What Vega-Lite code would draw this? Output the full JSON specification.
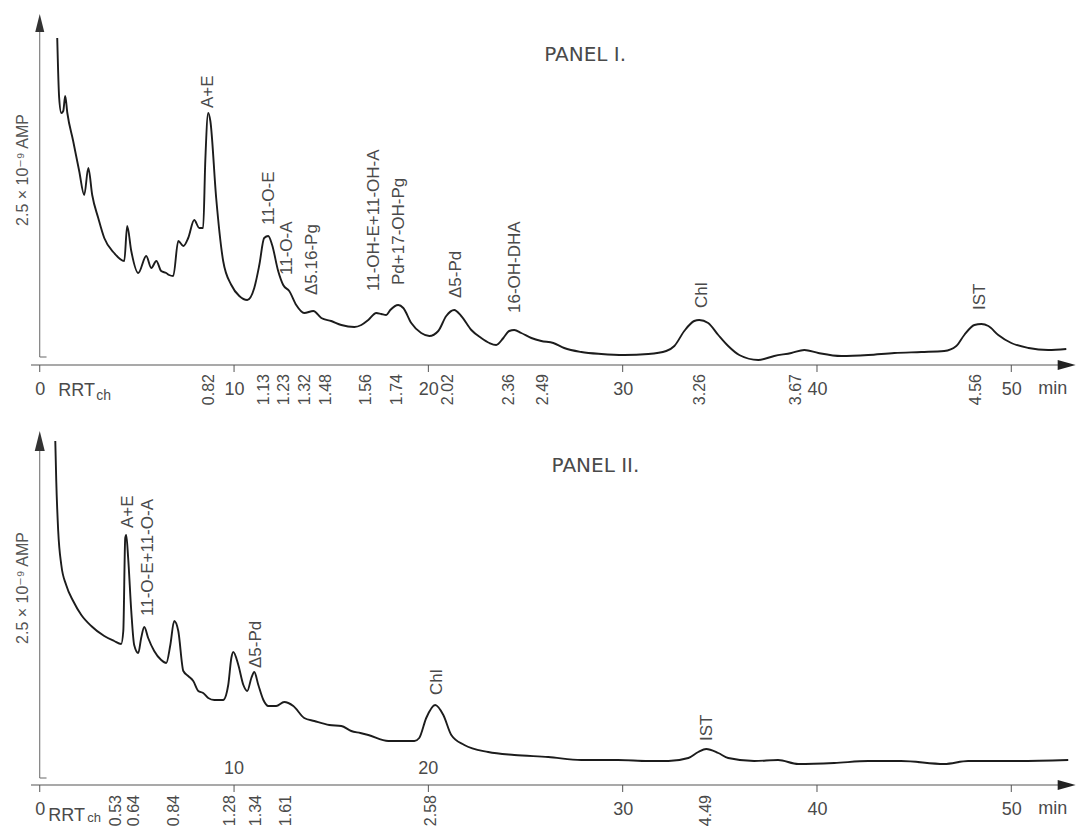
{
  "$schema": "https://vega.github.io/schema/vega-lite/v6.json",
  "background": "white",
  "padding": {"left": 15, "top": 14, "right": 0, "bottom": 0},
  "spacing": 25,
  "config": {"view": {"stroke": null}, "font": "Liberation Sans"},
  "datasets": {
    "p1": [
      {"t":0.90,"v":327},{"t":1.00,"v":267},{"t":1.11,"v":252},{"t":1.21,"v":254},{"t":1.31,"v":269},{"t":1.42,"v":252},{"t":1.72,"v":224},{"t":2.03,"v":194},{"t":2.29,"v":170},{"t":2.50,"v":197},{"t":2.70,"v":170},{"t":3.01,"v":147},{"t":3.32,"v":127},{"t":3.83,"v":112},{"t":4.35,"v":104},{"t":4.50,"v":139},{"t":4.71,"v":114},{"t":5.07,"v":92},{"t":5.48,"v":109},{"t":5.74,"v":97},{"t":6.00,"v":104},{"t":6.25,"v":94},{"t":6.51,"v":92},{"t":6.66,"v":90},{"t":6.87,"v":89},{"t":7.13,"v":124},{"t":7.39,"v":119},{"t":7.64,"v":127},{"t":7.95,"v":145},{"t":8.21,"v":137},{"t":8.41,"v":137},{"t":8.52,"v":204},{"t":8.67,"v":252},{"t":8.78,"v":244},{"t":9.08,"v":167},{"t":9.44,"v":104},{"t":9.86,"v":80},{"t":10.27,"v":69},{"t":10.68,"v":65},{"t":11.04,"v":77},{"t":11.30,"v":100},{"t":11.55,"v":127},{"t":11.76,"v":129},{"t":11.96,"v":120},{"t":12.27,"v":94},{"t":12.53,"v":80},{"t":12.84,"v":74},{"t":13.20,"v":60},{"t":13.61,"v":52},{"t":14.08,"v":54},{"t":14.49,"v":47},{"t":15.00,"v":44},{"t":15.52,"v":40},{"t":16.19,"v":38},{"t":16.55,"v":40},{"t":16.91,"v":45},{"t":17.32,"v":52},{"t":17.58,"v":51},{"t":17.83,"v":50},{"t":18.04,"v":55},{"t":18.45,"v":60},{"t":18.71,"v":57},{"t":19.12,"v":42},{"t":19.63,"v":32},{"t":20.05,"v":29},{"t":20.51,"v":34},{"t":20.92,"v":49},{"t":21.33,"v":55},{"t":21.69,"v":49},{"t":22.21,"v":35},{"t":22.72,"v":27},{"t":23.14,"v":22},{"t":23.49,"v":20},{"t":23.86,"v":27},{"t":24.16,"v":34},{"t":24.42,"v":35},{"t":24.78,"v":32},{"t":25.30,"v":27},{"t":25.81,"v":24},{"t":26.43,"v":22},{"t":26.99,"v":17},{"t":27.87,"v":13},{"t":28.90,"v":11},{"t":30.08,"v":10},{"t":31.32,"v":11},{"t":32.24,"v":14},{"t":32.66,"v":19},{"t":33.17,"v":34},{"t":33.68,"v":44},{"t":33.94,"v":45},{"t":34.40,"v":42},{"t":34.92,"v":30},{"t":35.43,"v":19},{"t":36.00,"v":10},{"t":36.98,"v":5},{"t":37.80,"v":9},{"t":38.68,"v":12},{"t":39.35,"v":15},{"t":40.07,"v":12},{"t":41.25,"v":9},{"t":42.64,"v":10},{"t":43.98,"v":12},{"t":45.37,"v":13},{"t":46.55,"v":14},{"t":47.17,"v":19},{"t":47.58,"v":30},{"t":48.10,"v":40},{"t":48.46,"v":41},{"t":48.82,"v":39},{"t":49.33,"v":30},{"t":50.00,"v":22},{"t":50.89,"v":17},{"t":51.90,"v":15},{"t":52.83,"v":16}
    ],
    "p2": [
      {"t":0.80,"v":344},{"t":0.85,"v":304},{"t":0.95,"v":254},{"t":1.11,"v":220},{"t":1.36,"v":200},{"t":1.72,"v":184},{"t":2.14,"v":170},{"t":2.65,"v":159},{"t":3.32,"v":149},{"t":3.83,"v":144},{"t":4.19,"v":141},{"t":4.30,"v":154},{"t":4.40,"v":247},{"t":4.45,"v":250},{"t":4.55,"v":227},{"t":4.71,"v":174},{"t":4.86,"v":140},{"t":5.07,"v":132},{"t":5.22,"v":147},{"t":5.38,"v":158},{"t":5.58,"v":147},{"t":5.89,"v":134},{"t":6.25,"v":125},{"t":6.51,"v":122},{"t":6.72,"v":140},{"t":6.92,"v":164},{"t":7.13,"v":154},{"t":7.39,"v":114},{"t":7.64,"v":109},{"t":7.90,"v":104},{"t":8.16,"v":94},{"t":8.41,"v":92},{"t":8.67,"v":87},{"t":8.98,"v":85},{"t":9.44,"v":85},{"t":9.70,"v":100},{"t":9.86,"v":127},{"t":9.96,"v":133},{"t":10.22,"v":120},{"t":10.48,"v":100},{"t":10.68,"v":94},{"t":10.89,"v":107},{"t":11.04,"v":113},{"t":11.25,"v":100},{"t":11.51,"v":85},{"t":11.76,"v":79},{"t":12.17,"v":79},{"t":12.58,"v":83},{"t":13.05,"v":79},{"t":13.61,"v":67},{"t":14.13,"v":64},{"t":14.90,"v":60},{"t":15.52,"v":59},{"t":16.03,"v":54},{"t":16.50,"v":52},{"t":16.91,"v":50},{"t":17.94,"v":44},{"t":19.28,"v":44},{"t":19.53,"v":47},{"t":19.89,"v":67},{"t":20.35,"v":80},{"t":20.77,"v":70},{"t":21.18,"v":50},{"t":21.85,"v":40},{"t":23.08,"v":33},{"t":24.42,"v":30},{"t":26.17,"v":28},{"t":27.87,"v":25},{"t":29.77,"v":25},{"t":31.32,"v":24},{"t":32.35,"v":24},{"t":33.38,"v":27},{"t":33.89,"v":33},{"t":34.30,"v":36},{"t":34.92,"v":32},{"t":35.43,"v":27},{"t":36.77,"v":24},{"t":38.00,"v":25},{"t":39.03,"v":21},{"t":40.89,"v":22},{"t":42.64,"v":24},{"t":44.33,"v":24},{"t":46.55,"v":21},{"t":47.78,"v":24},{"t":50.36,"v":24},{"t":52.93,"v":25}
    ],
    "lab1": [
      {"t":8.67,"v":257,"label":"A+E"},{"t":11.81,"v":140,"label":"11-O-E"},{"t":12.74,"v":90,"label":"11-O-A"},{"t":14.02,"v":70,"label":"Δ5.16-Pg"},{"t":17.22,"v":74,"label":"11-OH-E+11-OH-A"},{"t":18.50,"v":80,"label":"Pd+17-OH-Pg"},{"t":21.44,"v":67,"label":"Δ5-Pd"},{"t":24.47,"v":52,"label":"16-OH-DHA"},{"t":34.10,"v":57,"label":"Chl"},{"t":48.40,"v":55,"label":"IST"}
    ],
    "lab2": [
      {"t":4.55,"v":257,"label":"A+E"},{"t":5.58,"v":169,"label":"11-O-E+11-O-A"},{"t":11.14,"v":117,"label":"Δ5-Pd"},{"t":20.46,"v":90,"label":"Chl"},{"t":34.35,"v":44,"label":"IST"}
    ],
    "rrt1": [
      {"t":8.72,"label":"0.82"},{"t":11.55,"label":"1.13"},{"t":12.58,"label":"1.23"},{"t":13.66,"label":"1.32"},{"t":14.74,"label":"1.48"},{"t":16.80,"label":"1.56"},{"t":18.40,"label":"1.74"},{"t":21.02,"label":"2.02"},{"t":24.16,"label":"2.36"},{"t":25.91,"label":"2.49"},{"t":33.99,"label":"3.26"},{"t":38.93,"label":"3.67"},{"t":48.2,"label":"4.56"}
    ],
    "rrt2": [
      {"t":3.94,"label":"0.53"},{"t":4.86,"label":"0.64"},{"t":6.92,"label":"0.84"},{"t":9.80,"label":"1.28"},{"t":11.14,"label":"1.34"},{"t":12.69,"label":"1.61"},{"t":20.15,"label":"2.58"},{"t":34.30,"label":"4.49"}
    ],
    "inner2": [
      {"t":10,"label":"10"},{"t":20,"label":"20"}
    ],
    "ticks": [
      {"t":0},{"t":10},{"t":20},{"t":30},{"t":40},{"t":50}
    ]
  },
  "vconcat": [
    {
      "width": 1045,
      "height": 363,
      "layer": [
        {
          "data": {"name": "p1"},
          "mark": {"type": "line", "color": "#1c1c1c", "strokeWidth": 1.9, "interpolate": "monotone"},
          "encoding": {
            "x": {"field": "t", "type": "quantitative", "scale": {"domain": [-0.45, 53.33], "nice": false, "zero": false},
                  "axis": {"values": [0,10,20,30,40,50], "title": null, "grid": false, "domain": false, "ticks": true, "tickSize": 3, "tickOpacity": 0, "labelFontSize": 18, "labelColor": "#4a4a4a", "labelPadding": 0, "labelFlush": false, "labelOverlap": false}},
            "y": {"field": "v", "type": "quantitative", "scale": {"domain": [-12, 351], "nice": false, "zero": false}, "axis": null}
          }
        },
        {
          "data": {"values": [{}]},
          "mark": {"type": "rule", "color": "#555", "strokeWidth": 1.2},
          "encoding": {"x": {"datum": -0.45}, "x2": {"datum": 53.0}, "y": {"datum": 0, "axis": null}}
        },
        {
          "data": {"name": "ticks"},
          "mark": {"type": "rule", "color": "#555", "strokeWidth": 1},
          "encoding": {"x": {"field": "t", "type": "quantitative"}, "y": {"datum": 0, "axis": null}, "y2": {"datum": -7}}
        },
        {
          "data": {"values": [{}]},
          "mark": {"type": "rule", "color": "#666", "strokeWidth": 1},
          "encoding": {"x": {"datum": 0}, "y": {"datum": 8, "axis": null}, "y2": {"datum": 334}}
        },
        {
          "data": {"values": [{}]},
          "mark": {"type": "rule", "color": "#666", "strokeWidth": 1},
          "encoding": {"x": {"datum": 0}, "x2": {"datum": 0.35}, "y": {"datum": 8, "axis": null}}
        },
        {
          "data": {"values": [{}]},
          "mark": {"type": "point", "shape": "M0,-1L0.5,1L-0.5,1Z", "filled": true, "color": "#333", "opacity": 1, "size": 324},
          "encoding": {"x": {"datum": 0}, "y": {"datum": 342, "axis": null}}
        },
        {
          "data": {"values": [{}]},
          "mark": {"type": "point", "shape": "M1,0L-1,-0.55L-1,0.55Z", "filled": true, "color": "#222", "opacity": 1, "size": 324},
          "encoding": {"x": {"datum": 52.85}, "y": {"datum": 0, "axis": null}}
        },
        {
          "data": {"name": "lab1"},
          "mark": {"type": "text", "angle": 270, "align": "left", "baseline": "middle", "fontSize": 17, "color": "#4a4a4a"},
          "encoding": {
            "x": {"field": "t", "type": "quantitative"},
            "y": {"field": "v", "type": "quantitative", "axis": null},
            "text": {"field": "label"}
          }
        },
        {
          "data": {"name": "rrt1"},
          "mark": {"type": "text", "angle": 270, "align": "right", "baseline": "middle", "fontSize": 16, "color": "#4a4a4a", "dx": -9},
          "encoding": {
            "x": {"field": "t", "type": "quantitative"},
            "y": {"datum": 0, "axis": null},
            "text": {"field": "label"}
          }
        },
        {
          "data": {"values": [{}]},
          "mark": {"type": "text", "text": "RRT", "align": "left", "baseline": "top", "dy": 17, "fontSize": 18, "color": "#4a4a4a"},
          "encoding": {"x": {"datum": 0.95}, "y": {"datum": 0, "axis": null}}
        },
        {
          "data": {"values": [{}]},
          "mark": {"type": "text", "text": "ch", "align": "left", "baseline": "top", "dy": 24, "fontSize": 14, "color": "#4a4a4a"},
          "encoding": {"x": {"datum": 2.91}, "y": {"datum": 0, "axis": null}}
        },
        {
          "data": {"values": [{}]},
          "mark": {"type": "text", "text": "min", "align": "left", "baseline": "top", "dy": 15, "fontSize": 18, "color": "#4a4a4a"},
          "encoding": {"x": {"datum": 51.39}, "y": {"datum": 0, "axis": null}}
        },
        {
          "data": {"values": [{}]},
          "mark": {"type": "text", "text": "2.5 × 10⁻⁹ AMP", "angle": 270, "align": "center", "baseline": "middle", "fontSize": 16, "color": "#555", "font": "Liberation Sans, DejaVu Sans"},
          "encoding": {"x": {"datum": -0.85}, "y": {"datum": 195, "axis": null}}
        },
        {
          "data": {"values": [{}]},
          "mark": {"type": "text", "text": "PANEL I.", "align": "center", "baseline": "middle", "fontSize": 20, "color": "#4a4a4a", "font": "DejaVu Sans"},
          "encoding": {"x": {"datum": 28.07}, "y": {"datum": 310, "axis": null}}
        }
      ]
    },
    {
      "width": 1045,
      "height": 366,
      "layer": [
        {
          "data": {"name": "p2"},
          "mark": {"type": "line", "color": "#1c1c1c", "strokeWidth": 1.9, "interpolate": "monotone"},
          "encoding": {
            "x": {"field": "t", "type": "quantitative", "scale": {"domain": [-0.45, 53.33], "nice": false, "zero": false},
                  "axis": {"values": [0,10,20,30,40,50], "labelExpr": "datum.value == 10 || datum.value == 20 ? '' : datum.label", "title": null, "grid": false, "domain": false, "ticks": true, "tickSize": 3, "tickOpacity": 0, "labelFontSize": 18, "labelColor": "#4a4a4a", "labelPadding": 0, "labelFlush": false, "labelOverlap": false}},
            "y": {"field": "v", "type": "quantitative", "scale": {"domain": [-12, 354], "nice": false, "zero": false}, "axis": null}
          }
        },
        {
          "data": {"values": [{}]},
          "mark": {"type": "rule", "color": "#555", "strokeWidth": 1.2},
          "encoding": {"x": {"datum": -0.45}, "x2": {"datum": 53.0}, "y": {"datum": 0, "axis": null}}
        },
        {
          "data": {"name": "ticks"},
          "mark": {"type": "rule", "color": "#555", "strokeWidth": 1},
          "encoding": {"x": {"field": "t", "type": "quantitative"}, "y": {"datum": 0, "axis": null}, "y2": {"datum": -7}}
        },
        {
          "data": {"values": [{}]},
          "mark": {"type": "rule", "color": "#666", "strokeWidth": 1},
          "encoding": {"x": {"datum": 0}, "y": {"datum": 7, "axis": null}, "y2": {"datum": 337}}
        },
        {
          "data": {"values": [{}]},
          "mark": {"type": "rule", "color": "#666", "strokeWidth": 1},
          "encoding": {"x": {"datum": 0}, "x2": {"datum": 0.35}, "y": {"datum": 7, "axis": null}}
        },
        {
          "data": {"values": [{}]},
          "mark": {"type": "point", "shape": "M0,-1L0.5,1L-0.5,1Z", "filled": true, "color": "#333", "opacity": 1, "size": 400},
          "encoding": {"x": {"datum": 0}, "y": {"datum": 344, "axis": null}}
        },
        {
          "data": {"values": [{}]},
          "mark": {"type": "point", "shape": "M1,0L-1,-0.55L-1,0.55Z", "filled": true, "color": "#222", "opacity": 1, "size": 324},
          "encoding": {"x": {"datum": 52.85}, "y": {"datum": 0, "axis": null}}
        },
        {
          "data": {"name": "lab2"},
          "mark": {"type": "text", "angle": 270, "align": "left", "baseline": "middle", "fontSize": 17, "color": "#4a4a4a"},
          "encoding": {
            "x": {"field": "t", "type": "quantitative"},
            "y": {"field": "v", "type": "quantitative", "axis": null},
            "text": {"field": "label"}
          }
        },
        {
          "data": {"name": "rrt2"},
          "mark": {"type": "text", "angle": 270, "align": "right", "baseline": "middle", "fontSize": 16, "color": "#4a4a4a", "dx": -10},
          "encoding": {
            "x": {"field": "t", "type": "quantitative"},
            "y": {"datum": 0, "axis": null},
            "text": {"field": "label"}
          }
        },
        {
          "data": {"name": "inner2"},
          "mark": {"type": "text", "align": "center", "baseline": "bottom", "dy": -7, "fontSize": 18, "color": "#4a4a4a"},
          "encoding": {
            "x": {"field": "t", "type": "quantitative"},
            "y": {"datum": 0, "axis": null},
            "text": {"field": "label"}
          }
        },
        {
          "data": {"values": [{}]},
          "mark": {"type": "text", "text": "RRT", "align": "left", "baseline": "top", "dy": 22, "fontSize": 18, "color": "#4a4a4a"},
          "encoding": {"x": {"datum": 0.44}, "y": {"datum": 0, "axis": null}}
        },
        {
          "data": {"values": [{}]},
          "mark": {"type": "text", "text": "ch", "align": "left", "baseline": "top", "dy": 27, "fontSize": 13, "color": "#4a4a4a"},
          "encoding": {"x": {"datum": 2.44}, "y": {"datum": 0, "axis": null}}
        },
        {
          "data": {"values": [{}]},
          "mark": {"type": "text", "text": "min", "align": "left", "baseline": "top", "dy": 15, "fontSize": 18, "color": "#4a4a4a"},
          "encoding": {"x": {"datum": 51.39}, "y": {"datum": 0, "axis": null}}
        },
        {
          "data": {"values": [{}]},
          "mark": {"type": "text", "text": "2.5 × 10⁻⁹ AMP", "angle": 270, "align": "center", "baseline": "middle", "fontSize": 16, "color": "#555", "font": "Liberation Sans, DejaVu Sans"},
          "encoding": {"x": {"datum": -0.85}, "y": {"datum": 197, "axis": null}}
        },
        {
          "data": {"values": [{}]},
          "mark": {"type": "text", "text": "PANEL II.", "align": "center", "baseline": "middle", "fontSize": 20, "color": "#4a4a4a", "font": "DejaVu Sans"},
          "encoding": {"x": {"datum": 28.6}, "y": {"datum": 319, "axis": null}}
        }
      ]
    }
  ]
}
